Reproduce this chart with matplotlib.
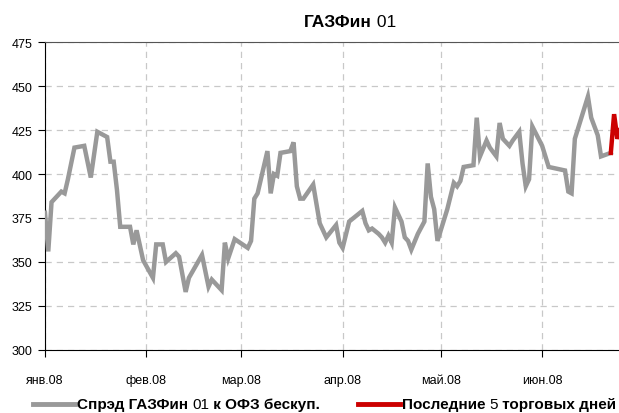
import matplotlib
matplotlib.use("Agg")
import matplotlib.pyplot as plt
from matplotlib import font_manager
import pandas as pd

# ---- data ----
dates = ["2008-01-01","2008-01-02","2008-01-03","2008-01-05","2008-01-06","2008-01-07","2008-01-08",
         "2008-01-10","2008-01-13","2008-01-15","2008-01-17","2008-01-20","2008-01-21","2008-01-22",
         "2008-01-23","2008-01-24","2008-01-27","2008-01-28","2008-01-29","2008-01-31","2008-02-03",
         "2008-02-04","2008-02-06","2008-02-07","2008-02-10","2008-02-11","2008-02-13","2008-02-14",
         "2008-02-18","2008-02-20","2008-02-21","2008-02-24","2008-02-25","2008-02-26","2008-02-28",
         "2008-03-03","2008-03-04","2008-03-05","2008-03-06","2008-03-09","2008-03-10","2008-03-11",
         "2008-03-12","2008-03-13","2008-03-16","2008-03-17","2008-03-18","2008-03-19","2008-03-20",
         "2008-03-23","2008-03-25","2008-03-27","2008-03-30","2008-03-31","2008-04-01","2008-04-03",
         "2008-04-05","2008-04-07","2008-04-08","2008-04-09","2008-04-10","2008-04-12","2008-04-13",
         "2008-04-14","2008-04-15","2008-04-16","2008-04-17","2008-04-19","2008-04-20","2008-04-21",
         "2008-04-22","2008-04-24","2008-04-26","2008-04-27","2008-04-28","2008-04-29","2008-04-30",
         "2008-05-03","2008-05-05","2008-05-06","2008-05-07","2008-05-08","2008-05-11","2008-05-12",
         "2008-05-13","2008-05-15","2008-05-16","2008-05-18","2008-05-19","2008-05-20","2008-05-22",
         "2008-05-23","2008-05-25","2008-05-26","2008-05-27","2008-05-28","2008-05-29","2008-06-01",
         "2008-06-03","2008-06-08","2008-06-09","2008-06-10","2008-06-11","2008-06-15","2008-06-16",
         "2008-06-18","2008-06-19","2008-06-22"]
spread = [378,356,384,388,390,389,397,
          415,416,398,424,421,407,407,
          391,370,370,360,368,351,341,
          360,360,350,355,353,333,341,
          354,336,340,334,361,352,363,
          358,362,386,389,413,389,400,
          399,412,413,418,393,386,386,
          394,372,364,371,361,358,373,
          376,379,372,368,369,366,364,
          361,365,361,381,373,364,362,
          357,366,373,406,387,380,362,
          380,395,393,396,404,405,432,
          410,419,415,410,429,420,416,
          419,424,406,393,397,427,416,
          404,402,390,389,420,444,432,
          422,410,412]

last_dates = ["2008-06-22","2008-06-23","2008-06-24","2008-06-25","2008-06-26"]
last_vals = [412,434,420,426,424]

month_ticks = ["2008-01-01","2008-02-01","2008-03-01","2008-04-01","2008-05-01","2008-06-01"]
month_labels = ["янв.08","фев.08","мар.08","апр.08","май.08","июн.08"]
y_ticks = [300,325,350,375,400,425,450,475]

title_bold = "ГАЗФин"
title_reg = " 01"
legend1 = [("Спрэд ГАЗФин ", "bold"), ("01", "normal"), (" к ОФЗ бескуп.", "bold")]
legend2 = [("Последние ", "bold"), ("5", "normal"), (" торговых дней", "bold")]

# ---- fonts ----
names = {f.name for f in font_manager.fontManager.ttflist}
fam = "Liberation Sans Narrow" if "Liberation Sans Narrow" in names else "Liberation Sans"
plt.rcParams['font.family'] = [fam, 'DejaVu Sans']

x = pd.to_datetime(dates)
xl = pd.to_datetime(last_dates)

fig = plt.figure(figsize=(6.19, 4.14), dpi=100)
ax = fig.add_axes([45/619, 63/414, 1.0 - 45/619, 308/414])

gray = "#999999"
red = "#cc0000"
ax.plot(x, spread, color=gray, lw=3.2, solid_joinstyle="miter", zorder=3)
ax.plot(xl, last_vals, color=red, lw=3.2, solid_joinstyle="miter", zorder=4)

ax.set_ylim(300, 475)
ax.set_yticks(y_ticks)
ax.set_xlim(pd.Timestamp("2008-01-01"), pd.Timestamp("2008-06-24 12:00"))
ax.set_xticks(pd.to_datetime(month_ticks))
ax.set_xticklabels(month_labels)

ax.grid(True, color="#c8c8c8", linestyle=(0, (5, 4)), lw=0.9, zorder=1)
ax.spines["right"].set_visible(False)
ax.spines["top"].set_color("#555555")
ax.spines["left"].set_color("black")
ax.spines["bottom"].set_color("black")
ax.tick_params(axis="y", length=5, width=0.8, labelsize=9, pad=4)
ax.tick_params(axis="x", length=5, width=0.8, labelsize=9, pad=12)

# title
renderer = fig.canvas.get_renderer()
t1 = fig.text(0, 0, title_bold, fontsize=12.5, fontweight="bold")
t2 = fig.text(0, 0, title_reg, fontsize=12.5)
w1 = t1.get_window_extent(renderer).width
w2 = t2.get_window_extent(renderer).width
start = 350 - (w1 + w2) / 2
yt = 414 - 27
t1.set_position((start / 619, yt / 414))
t2.set_position(((start + w1) / 619, yt / 414))

# legend
def draw_pieces(pieces, x0, ypix):
    xx = x0
    for txt, wt in pieces:
        t = fig.text(xx / 619, ypix / 414, txt, fontsize=11, fontweight=wt, va="center")
        xx += t.get_window_extent(renderer).width
    return xx

ly = 414 - 405
fig.add_artist(plt.Line2D([33/619, 75/619], [ly/414, ly/414], color=gray, lw=3.5))
draw_pieces(legend1, 77, ly)
fig.add_artist(plt.Line2D([358/619, 400/619], [ly/414, ly/414], color=red, lw=3.5))
draw_pieces(legend2, 402, ly)

fig.savefig("out.png", dpi=100)
